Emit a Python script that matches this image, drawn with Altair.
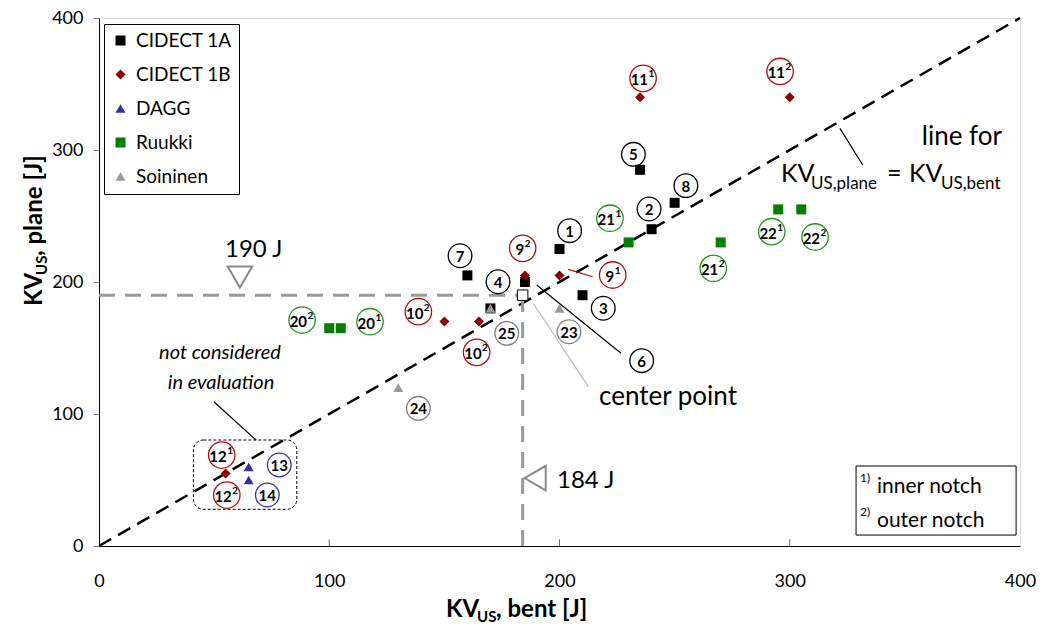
import altair as alt
import pandas as pd

FONT = "Lato"

# ---------------- data ----------------
series_names = ["CIDECT 1A", "CIDECT 1B", "DAGG", "Ruukki", "Soininen"]
series_colors = ["#000000", "#8B0000", "#333399", "#008000", "#999999"]
series_shapes = ["square", "diamond", "triangle-up", "square", "triangle-up"]

c1a_x = [200, 240, 210, 185, 235, 170, 160, 250]
c1a_y = [225, 240, 190, 200, 285, 180, 205, 260]
c1b_x = [235, 300, 185, 200, 150, 165, 55]
c1b_y = [340, 340, 205, 205, 170, 170, 55]
dagg_x = [65, 65]
dagg_y = [60, 50]
ruukki_x = [230, 270, 295, 305, 100, 105]
ruukki_y = [230, 230, 255, 255, 165, 165]
soin_x = [200, 130, 170]
soin_y = [180, 120, 180]

center_x = [184]
center_y = [190]

ref_190 = 190
ref_184 = 184

# circled labels (positions in data units); base number + superscript
lab_base = ["1", "2", "3", "4", "5", "6", "7", "8",
            "23", "24", "25",
            "11", "11", "9", "9", "10", "10", "12", "12",
            "21", "21", "22", "22", "20", "20",
            "13", "14"]
lab_sup = ["", "", "", "", "", "", "", "",
           "", "", "",
           "1", "2", "2", "1", "2", "2", "1", "2",
           "1", "2", "1", "2", "2", "1",
           "", ""]
lab_x = [204.4, 238.9, 219.0, 173.3, 232.1, 235.7, 156.8, 254.9,
         204.1, 138.7, 177.1,
         236.3, 295.8, 184.0, 223.1, 138.7, 164.0, 53.3, 55.5,
         221.9, 266.8, 292.2, 311.0, 88.2, 117.7,
         78.3, 73.1]
lab_y = [238.9, 255.3, 180.1, 200.2, 296.7, 140.4, 219.9, 273.0,
         162.3, 104.3, 161.1,
         354.3, 359.5, 225.5, 205.3, 177.5, 146.7, 68.9, 38.6,
         248.3, 210.4, 238.1, 234.1, 171.2, 169.9,
         61.4, 38.6]
lab_col = ["#000000"] * 8 + ["#808080"] * 3 + ["#B01010"] * 8 + ["#1A961A"] * 6 + ["#3535A8"] * 2

# leader lines
lead_x = [321.8, 190.1, 188.6, 203.8, 49.9]
lead_y = [316.4, 197.7, 183.9, 209.6, 109.3]
lead_x2 = [331.7, 226.7, 212.5, 214.4, 68.2]
lead_y2 = [288.6, 146.0, 120.7, 204.0, 80.3]
lead_col = ["#000000", "#000000", "#BBBBBB", "#B01010", "#000000"]

# ---------------- frames ----------------
rows = []
for name, xs_, ys_ in zip(series_names, [c1a_x, c1b_x, dagg_x, ruukki_x, soin_x],
                          [c1a_y, c1b_y, dagg_y, ruukki_y, soin_y]):
    for a, b in zip(xs_, ys_):
        rows.append({"series": name, "x": a, "y": b})
pts = pd.DataFrame(rows)

labels = pd.DataFrame({"b": lab_base, "p": lab_sup, "x": lab_x, "y": lab_y, "c": lab_col})
labels["s"] = [700 if p else 560 for p in lab_sup]
plain = labels[labels["p"] == ""]
sup1 = labels[(labels["p"] != "") & (labels["b"].str.len() == 1)]
sup2 = labels[(labels["p"] != "") & (labels["b"].str.len() == 2)]

leads = pd.DataFrame({"x": lead_x, "y": lead_y, "x2": lead_x2, "y2": lead_y2, "c": lead_col})

diag = pd.DataFrame({"x": [0, 400], "y": [0, 400]})
refl = pd.DataFrame({"x": [0, ref_184], "x2": [ref_184, ref_184],
                     "y": [ref_190, 0], "y2": [ref_190, ref_190]})
center = pd.DataFrame({"x": center_x, "y": center_y})
xticks = pd.DataFrame({"x": [100, 200, 300], "y": [0, 0, 0], "y2": [5, 5, 5]})
tri_down = pd.DataFrame({"x": [61.2], "y": [203.8]})
tri_left = pd.DataFrame({"x": [189.4], "y": [51.5]})
dbox = pd.DataFrame({"x": [41.0], "x2": [85.9], "y": [27.8], "y2": [80.3]})
fbox = pd.DataFrame({"x": [328.8], "x2": [398.3], "y": [8.3], "y2": [60.6]})

# ---------------- scales/axes ----------------
xs = alt.Scale(domain=[0, 400], nice=False, zero=False)
ys = alt.Scale(domain=[0, 400], nice=False, zero=False)
xaxis = alt.Axis(values=[0, 100, 200, 300, 400], title=None, grid=False, ticks=False, tickSize=0,
                 labelFont=FONT, labelFontSize=18, labelColor="#000000", labelPadding=26,
                 labelFlush=False, labelOverlap=False,
                 domainColor="#000000", domainWidth=1)
yaxis = alt.Axis(values=[0, 100, 200, 300, 400], title=None, grid=False, ticks=True, tickSize=6,
                 tickColor="#888888", labelFont=FONT, labelFontSize=18, labelColor="#000000",
                 labelFlush=False, labelOverlap=False,
                 labelPadding=10, domainColor="#000000", domainWidth=1)


def X(f="x"):
    return alt.X(f"{f}:Q", scale=xs, axis=xaxis)


def Y(f="y"):
    return alt.Y(f"{f}:Q", scale=ys, axis=yaxis)


leg = alt.Legend(orient="none", legendX=5, legendY=6, title=None, labelFont=FONT,
                 labelFontSize=19, labelColor="#000000", symbolSize=100, padding=7,
                 rowPadding=14, strokeColor="#000000", fillColor="white",
                 labelOffset=6, symbolStrokeWidth=0)

layers = []

layers.append(alt.Chart(diag).mark_line(color="#000000", strokeWidth=2.5, strokeDash=[14, 8])
              .encode(x=X(), y=Y()))

layers.append(alt.Chart(refl).mark_rule(color="#999999", strokeWidth=3, strokeDash=[16, 10])
              .encode(x=X(), x2="x2:Q", y=Y(), y2="y2:Q"))

layers.append(alt.Chart(xticks).mark_rule(color="#666666", strokeWidth=1)
              .encode(x=X(), y=Y(), y2="y2:Q"))

layers.append(alt.Chart(leads).mark_rule(strokeWidth=1.2)
              .encode(x=X(), y=Y(), x2="x2:Q", y2="y2:Q", color=alt.Color("c:N", scale=None)))

layers.append(alt.Chart(dbox).mark_rect(fill=None, fillOpacity=0, stroke="#000000", strokeWidth=1,
                                        strokeDash=[3, 2], cornerRadius=10)
              .encode(x=X(), x2="x2:Q", y=Y(), y2="y2:Q"))

layers.append(alt.Chart(fbox).mark_rect(fill="white", stroke="#000000", strokeWidth=1)
              .encode(x=X(), x2="x2:Q", y=Y(), y2="y2:Q"))

layers.append(alt.Chart(pts).mark_point(filled=True, size=100, opacity=1)
              .encode(x=X(), y=Y(),
                      color=alt.Color("series:N", scale=alt.Scale(domain=series_names, range=series_colors),
                                      legend=leg),
                      shape=alt.Shape("series:N", scale=alt.Scale(domain=series_names, range=series_shapes),
                                      legend=leg)))

layers.append(alt.Chart(center).mark_point(shape="square", filled=True, fill="white", stroke="#000000",
                                           strokeWidth=1, size=110, opacity=1)
              .encode(x=X(), y=Y()))

layers.append(alt.Chart(tri_down).mark_point(shape="triangle-down", filled=True, fill="white",
                                             stroke="#888888", strokeWidth=2, size=600, opacity=1)
              .encode(x=X(), y=Y()))
layers.append(alt.Chart(tri_left).mark_point(shape="triangle-left", filled=True, fill="white",
                                             stroke="#888888", strokeWidth=2, size=600, opacity=1)
              .encode(x=X(), y=Y()))

layers.append(alt.Chart(labels).mark_point(shape="circle", filled=False, strokeWidth=1.3, opacity=1)
              .encode(x=X(), y=Y(), color=alt.Color("c:N", scale=None),
                      size=alt.Size("s:Q", scale=None)))

LBL = dict(font=FONT, fontSize=15, fontWeight="bold", color="#000000", baseline="middle")
layers.append(alt.Chart(plain).mark_text(align="center", dy=1, **LBL)
              .encode(x=X(), y=Y(), text="b:N"))
layers.append(alt.Chart(sup2).mark_text(align="right", dx=5, dy=2, **LBL)
              .encode(x=X(), y=Y(), text="b:N"))
layers.append(alt.Chart(sup2).mark_text(align="left", dx=5.5, dy=-4, font=FONT, fontSize=10,
                                        fontWeight="bold", color="#000000", baseline="middle")
              .encode(x=X(), y=Y(), text="p:N"))
layers.append(alt.Chart(sup1).mark_text(align="right", dx=1.5, dy=2, **LBL)
              .encode(x=X(), y=Y(), text="b:N"))
layers.append(alt.Chart(sup1).mark_text(align="left", dx=2, dy=-4, font=FONT, fontSize=10,
                                        fontWeight="bold", color="#000000", baseline="middle")
              .encode(x=X(), y=Y(), text="p:N"))


def txt(text, px, py, size, weight="normal", style="normal", align="left", angle=0, color="#000000"):
    d = pd.DataFrame({"t": [text]})
    return alt.Chart(d).mark_text(font=FONT, fontSize=size, fontWeight=weight, fontStyle=style,
                                  align=align, baseline="alphabetic", angle=angle, color=color).encode(
        x=alt.value(px - 99), y=alt.value(py - 18), text="t:N")


# annotations (page pixel positions)
layers += [
    txt("190 J", 225, 257, 24),
    txt("184 J", 557, 488, 24),
    txt("center point", 599, 405, 26),
    txt("not considered", 220, 359, 20, style="italic", align="center"),
    txt("in evaluation", 221, 389, 20, style="italic", align="center"),
    txt("line for", 1002, 145, 26, align="right"),
    txt("KV", 781, 182, 25),
    txt("US,plane", 811, 189, 17),
    txt("=", 887, 182, 25),
    txt("KV", 909, 182, 25),
    txt("US,bent", 941, 189, 17),
    txt("1)", 860, 482, 12),
    txt("inner notch", 877, 493, 21),
    txt("2)", 860, 516, 12),
    txt("outer notch", 877, 527, 21),
    # x axis title
    txt("KV", 446, 617, 24, weight="bold"),
    txt("US", 477, 622, 15, weight="bold"),
    txt(", bent [J]", 496, 617, 24, weight="bold"),
    # y axis title (rotated)
    txt("KV", 42, 306, 24, weight="bold", angle=270),
    txt("US", 47, 275, 15, weight="bold", angle=270),
    txt(", plane [J]", 42, 256, 24, weight="bold", angle=270),
]

chart = alt.layer(*layers).properties(
    width=921, height=528,
    padding={"left": 99, "top": 18, "right": 36, "bottom": 81},
    autosize=alt.AutoSizeParams(type="none"),
    background="white",
).configure_view(stroke="#000000", strokeWidth=1).configure(font=FONT)

chart.save("out.html", embed_options={"renderer": "svg", "actions": False})
